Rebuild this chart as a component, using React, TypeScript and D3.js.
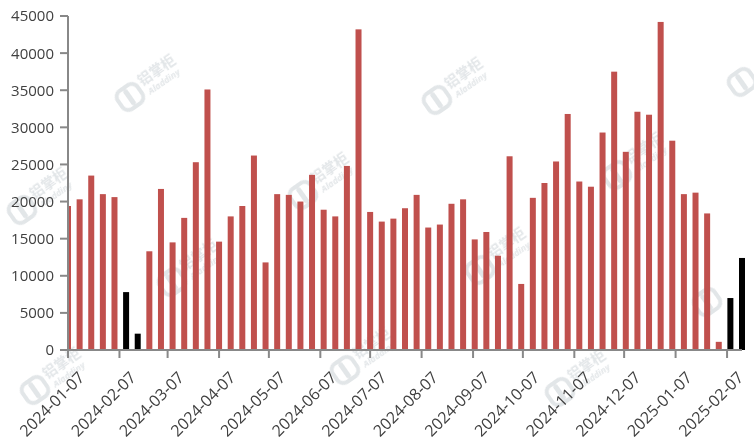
import React from 'react';
import * as d3 from 'd3';

const weekDates: string[] = [
  '2024-01-07', '2024-01-14', '2024-01-21', '2024-01-28', '2024-02-04', '2024-02-11', '2024-02-18', '2024-02-25',
  '2024-03-03', '2024-03-10', '2024-03-17', '2024-03-24', '2024-03-31', '2024-04-07', '2024-04-14', '2024-04-21',
  '2024-04-28', '2024-05-05', '2024-05-12', '2024-05-19', '2024-05-26', '2024-06-02', '2024-06-09', '2024-06-16',
  '2024-06-23', '2024-06-30', '2024-07-07', '2024-07-14', '2024-07-21', '2024-07-28', '2024-08-04', '2024-08-11',
  '2024-08-18', '2024-08-25', '2024-09-01', '2024-09-08', '2024-09-15', '2024-09-22', '2024-09-29', '2024-10-06',
  '2024-10-13', '2024-10-20', '2024-10-27', '2024-11-03', '2024-11-10', '2024-11-17', '2024-11-24', '2024-12-01',
  '2024-12-08', '2024-12-15', '2024-12-22', '2024-12-29', '2025-01-05', '2025-01-12', '2025-01-19', '2025-01-26',
  '2025-02-02', '2025-02-09', '2025-02-16',
];

const weekValues: number[] = [
  19400, 20300, 23500, 21000, 20600, 7800, 2200, 13300,
  21700, 14500, 17800, 25300, 35100, 14600, 18000, 19400,
  26200, 11800, 21000, 20900, 20000, 23600, 18900, 18000,
  24800, 43200, 18600, 17300, 17700, 19100, 20900, 16500,
  16900, 19700, 20300, 14900, 15900, 12700, 26100, 8900,
  20500, 22500, 25400, 31800, 22700, 22000, 29300, 37500,
  26700, 32100, 31700, 44200, 28200, 21000, 21200, 18400,
  1100, 7000, 12400,
];

const holidayWeeks: string[] = ['2024-02-11', '2024-02-18', '2025-02-09', '2025-02-16'];

const xTickLabels: string[] = [
  '2024-01-07', '2024-02-07', '2024-03-07', '2024-04-07', '2024-05-07', '2024-06-07', '2024-07-07',
  '2024-08-07', '2024-09-07', '2024-10-07', '2024-11-07', '2024-12-07', '2025-01-07', '2025-02-07',
];

const yTickValues: number[] = [0, 5000, 10000, 15000, 20000, 25000, 30000, 35000, 40000, 45000];

// [x, y, showText]
const watermarkSpots: [number, number, boolean][] = [
  [130, 97, true], [437, 100, true], [742, 82, false], [22, 210, true], [303, 195, true], [617, 175, true],
  [172, 282, true], [480, 270, true], [707, 302, false], [35, 390, true], [345, 370, true], [560, 392, true],
];

const parse = d3.timeParse('%Y-%m-%d');

const W = 754;
const H = 444;
const left = 68;
const right = 742;
const baseY = 350;
const topY = 16;

const FONT = '"Open Sans", "DejaVu Sans", sans-serif';
const AXIS = '#888888';
const TXT = '#404040';
const RED = '#C0504D';
const WM = '#cfd5d9';

export default function App() {
  const x = d3
    .scaleTime()
    .domain([parse('2024-01-07') as Date, parse('2025-02-16') as Date])
    .range([left, right]);
  const y = d3.scaleLinear().domain([0, 45000]).range([baseY, topY]);
  const barW = 6;

  return (
    <svg
      width={W}
      height={H}
      style={{ position: 'absolute', left: 0, top: 0, background: '#fff' }}
      fontFamily={FONT}
    >
      <defs>
        <clipPath id="plotClip">
          <rect x={left} y={0} width={W - left} height={baseY} />
        </clipPath>
      </defs>
      <rect x={0} y={0} width={W} height={H} fill="#fff" />

      {/* watermarks */}
      <g opacity={0.6}>
        {watermarkSpots.map(([wx, wy, showText], i) => (
          <g key={i} transform={`translate(${wx},${wy}) rotate(-35)`}>
            <rect x={-12} y={-11} width={24} height={22} rx={7} fill="none" stroke={WM} strokeWidth={4} />
            <rect x={-3} y={-9} width={5} height={18} rx={2} fill={WM} />
            {showText && (
              <>
                <text x={16} y={-2} fontSize={14} fontWeight="bold" fill={WM} fontFamily='"Noto Sans CJK SC", sans-serif'>
                  铝掌柜
                </text>
                <text x={18} y={10} fontSize={9} fontWeight="bold" fontStyle="italic" fill={WM}>
                  Aladdiny
                </text>
              </>
            )}
          </g>
        ))}
      </g>

      {/* bars */}
      <g clipPath="url(#plotClip)">
        {weekDates.map((d, i) => {
          const cx = x(parse(d) as Date);
          const v = weekValues[i];
          const yt = y(v);
          return (
            <rect
              key={d}
              x={cx - barW / 2}
              y={yt}
              width={barW}
              height={baseY - yt}
              fill={holidayWeeks.includes(d) ? '#000000' : RED}
            />
          );
        })}
      </g>

      {/* y axis */}
      <line x1={left} x2={left} y1={topY} y2={baseY} stroke={AXIS} strokeWidth={2} />
      {yTickValues.map((t) => (
        <g key={t}>
          <line x1={left - 8} x2={left} y1={y(t)} y2={y(t)} stroke={AXIS} strokeWidth={2} />
          <text x={left - 14} y={y(t)} dy="0.36em" textAnchor="end" fontSize={15} fill={TXT}>
            {t}
          </text>
        </g>
      ))}

      {/* x axis */}
      <line x1={left - 8} x2={right} y1={baseY} y2={baseY} stroke={AXIS} strokeWidth={2} />
      {xTickLabels.map((t) => {
        const tx = x(parse(t) as Date);
        return (
          <g key={t}>
            <line x1={tx} x2={tx} y1={baseY} y2={baseY + 8} stroke={AXIS} strokeWidth={2} />
            <text
              transform={`translate(${tx + 9},${baseY + 20}) rotate(-45)`}
              dy="0.75em"
              textAnchor="end"
              fontSize={16}
              fill={TXT}
            >
              {t}
            </text>
          </g>
        );
      })}
    </svg>
  );
}
